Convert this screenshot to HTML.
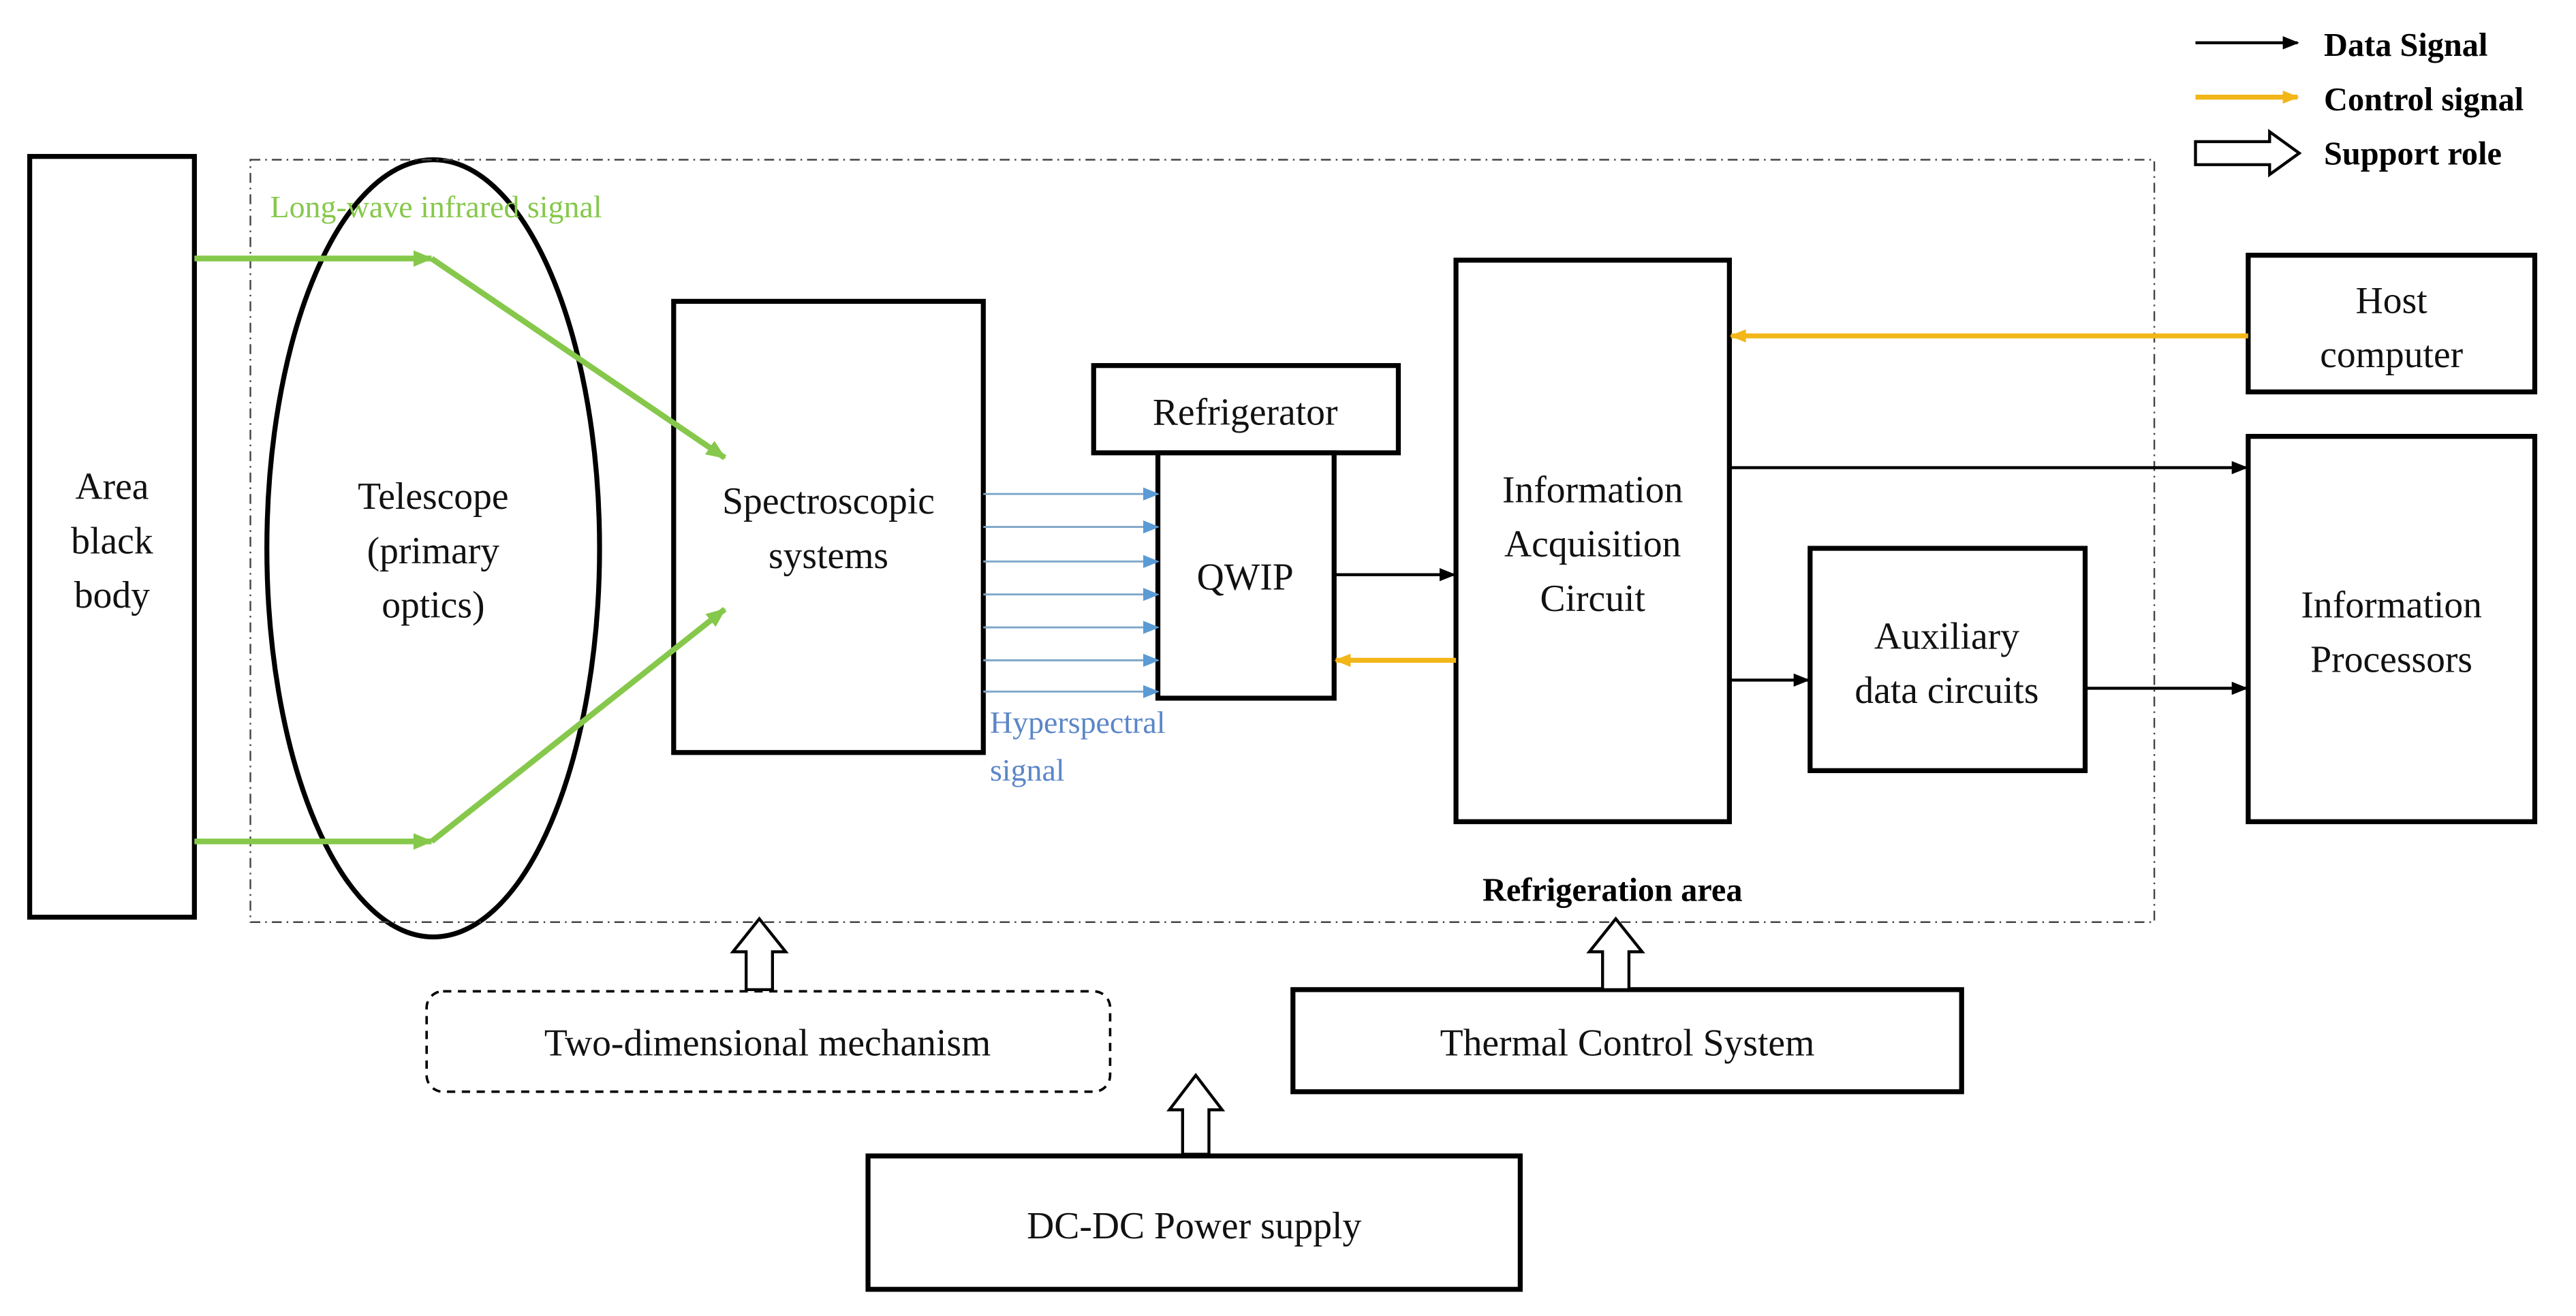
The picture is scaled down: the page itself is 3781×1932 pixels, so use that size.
<!DOCTYPE html>
<html><head><meta charset="utf-8"><style>html,body{margin:0;padding:0;background:#fff}svg{display:block}</style></head><body>
<svg width="3781" height="1932" viewBox="0 0 1564 799.2" xmlns="http://www.w3.org/2000/svg" font-family="'Liberation Serif', serif">
<defs>
<marker id="ab" markerWidth="10" markerHeight="8" refX="9" refY="4" orient="auto" markerUnits="userSpaceOnUse"><path d="M0,0 L10,4 L0,8 z" fill="#000"/></marker>
<marker id="ay" markerWidth="10" markerHeight="8" refX="9" refY="4" orient="auto" markerUnits="userSpaceOnUse"><path d="M0,0 L10,4 L0,8 z" fill="#f2b619"/></marker>
<marker id="ag" markerWidth="12" markerHeight="10" refX="11" refY="5" orient="auto" markerUnits="userSpaceOnUse"><path d="M0,0 L12,5 L0,10 z" fill="#86c84b"/></marker>
<marker id="abl" markerWidth="10" markerHeight="8" refX="9" refY="4" orient="auto" markerUnits="userSpaceOnUse"><path d="M0,0 L10,4 L0,8 z" fill="#5b9bd5"/></marker>
</defs>
<g fill="none" stroke="#000" stroke-width="3">
<rect x="18" y="95" width="100" height="462"/>
<rect x="409" y="183" width="188" height="274"/>
<rect x="664" y="222" width="185" height="53"/>
<rect x="703" y="275" width="107" height="149"/>
<rect x="884" y="158" width="166" height="341"/>
<rect x="1365" y="155" width="174" height="83"/>
<rect x="1365" y="265" width="174" height="234"/>
<rect x="1099" y="333" width="167" height="135"/>
<rect x="785" y="601" width="406" height="62"/>
<rect x="527" y="702" width="396" height="81"/>
<ellipse cx="263" cy="333" rx="101" ry="236"/>
</g>
<rect x="152" y="97" width="1156" height="463" fill="none" stroke="#444" stroke-width="1" stroke-dasharray="6,3,1,3"/>
<rect x="259" y="602" width="415" height="61" rx="10" fill="none" stroke="#000" stroke-width="1.5" stroke-dasharray="5,4"/>
<!-- green -->
<g stroke="#86c84b" stroke-width="3.5" fill="none">
<line x1="118" y1="157" x2="262" y2="157" marker-end="url(#ag)"/>
<line x1="262" y1="157" x2="440" y2="278" marker-end="url(#ag)"/>
<line x1="118" y1="511" x2="262" y2="511" marker-end="url(#ag)"/>
<line x1="262" y1="511" x2="440" y2="370" marker-end="url(#ag)"/>
</g>
<!-- blue -->
<g stroke="#7ea6c8" stroke-width="1.2">
<line x1="597" y1="300" x2="703" y2="300" marker-end="url(#abl)"/>
<line x1="597" y1="320" x2="703" y2="320" marker-end="url(#abl)"/>
<line x1="597" y1="341" x2="703" y2="341" marker-end="url(#abl)"/>
<line x1="597" y1="361" x2="703" y2="361" marker-end="url(#abl)"/>
<line x1="597" y1="381" x2="703" y2="381" marker-end="url(#abl)"/>
<line x1="597" y1="401" x2="703" y2="401" marker-end="url(#abl)"/>
<line x1="597" y1="420" x2="703" y2="420" marker-end="url(#abl)"/>
</g>
<!-- black data -->
<g stroke="#000" stroke-width="1.8">
<line x1="810" y1="349" x2="883" y2="349" marker-end="url(#ab)"/>
<line x1="1050" y1="284" x2="1364" y2="284" marker-end="url(#ab)"/>
<line x1="1050" y1="413" x2="1098" y2="413" marker-end="url(#ab)"/>
<line x1="1266" y1="418" x2="1364" y2="418" marker-end="url(#ab)"/>
<line x1="1333" y1="26" x2="1395" y2="26" marker-end="url(#ab)"/>
</g>
<g stroke="#f2b619" stroke-width="3">
<line x1="884" y1="401" x2="811" y2="401" marker-end="url(#ay)"/>
<line x1="1365" y1="204" x2="1051" y2="204" marker-end="url(#ay)"/>
<line x1="1333" y1="59" x2="1395" y2="59" marker-end="url(#ay)"/>
</g>
<!-- hollow arrows -->
<g fill="#fff" stroke="#000" stroke-width="1.8">
<path d="M453,601 L453,578 L445,578 L461,558 L477,578 L469,578 L469,601 Z"/>
<path d="M973,601 L973,578 L965,578 L981,558 L997,578 L989,578 L989,601 Z"/>
<path d="M718,701 L718,674 L710,674 L726,653 L742,674 L734,674 L734,701 Z"/>
<path d="M1333,86 L1378,86 L1378,80 L1396,93 L1378,106 L1378,100 L1333,100 Z"/>
</g>
<g font-size="23" text-anchor="middle" fill="#111">
<text x="68" y="303">Area</text><text x="68" y="336">black</text><text x="68" y="369">body</text>
<text x="263" y="309">Telescope</text><text x="263" y="342">(primary</text><text x="263" y="375">optics)</text>
<text x="503" y="312">Spectroscopic</text><text x="503" y="345">systems</text>
<text x="756" y="258">Refrigerator</text>
<text x="756" y="358">QWIP</text>
<text x="967" y="305">Information</text><text x="967" y="338">Acquisition</text><text x="967" y="371">Circuit</text>
<text x="1452" y="190">Host</text><text x="1452" y="223">computer</text>
<text x="1452" y="375">Information</text><text x="1452" y="408">Processors</text>
<text x="1182" y="394">Auxiliary</text><text x="1182" y="427">data circuits</text>
<text x="466" y="641">Two-dimensional mechanism</text>
<text x="988" y="641">Thermal Control System</text>
<text x="725" y="752">DC-DC Power supply</text>
</g>
<text x="164" y="132" font-size="19" fill="#86c84b">Long-wave infrared signal</text>
<text x="601" y="445" font-size="19" fill="#5b86c8">Hyperspectral</text>
<text x="601" y="474" font-size="19" fill="#5b86c8">signal</text>
<text x="979" y="547" font-size="20" font-weight="bold" text-anchor="middle">Refrigeration area</text>
<g font-size="20" font-weight="bold">
<text x="1411" y="34">Data Signal</text>
<text x="1411" y="67">Control signal</text>
<text x="1411" y="100">Support role</text>
</g>
</svg>
</body></html>
